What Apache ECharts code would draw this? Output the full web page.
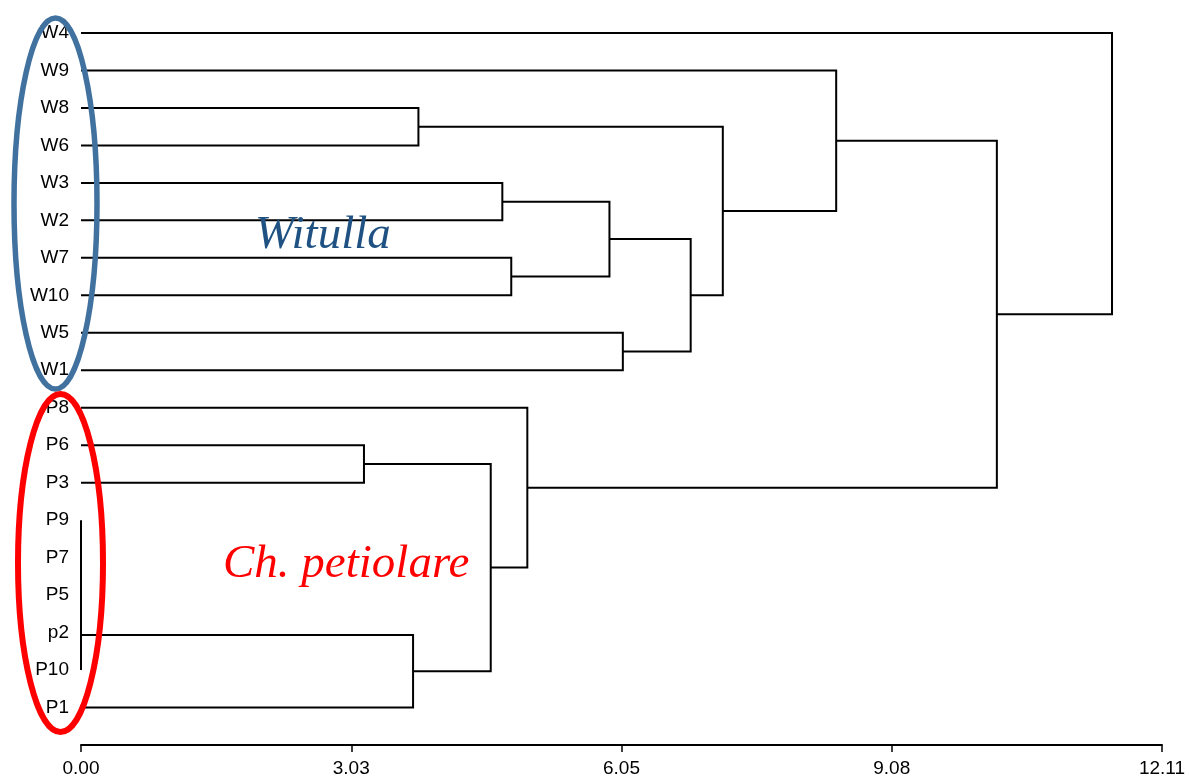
<!DOCTYPE html>
<html>
<head>
<meta charset="utf-8">
<script src="https://cdn.jsdelivr.net/npm/echarts@6/dist/echarts.min.js"></script>
<style>
  html, body { margin: 0; padding: 0; background: #fff; }
  #chart { width: 1189px; height: 779px; }
</style>
</head>
<body>
<div id="chart"></div>
<script>
// Leaf order (top to bottom)
const leaves = ['W4','W9','W8','W6','W3','W2','W7','W10','W5','W1',
                'P8','P6','P3','P9','P7','P5','p2','P10','P1'];

// Merges: [left child, right child, joining distance]; cluster k is referred to as 'c' + k
const merges = [
  ['W8', 'W6', 3.78],   // c0
  ['W3', 'W2', 4.72],   // c1
  ['W7', 'W10', 4.82],  // c2
  ['c1', 'c2', 5.92],   // c3
  ['W5', 'W1', 6.07],   // c4
  ['c3', 'c4', 6.83],   // c5
  ['c0', 'c5', 7.19],   // c6
  ['W9', 'c6', 8.46],   // c7
  ['P6', 'P3', 3.17],   // c8
  ['P9', 'P7', 0],      // c9
  ['c9', 'P5', 0],      // c10
  ['c10', 'p2', 0],     // c11
  ['c11', 'P10', 0],    // c12
  ['c12', 'P1', 3.72],  // c13
  ['c8', 'c13', 4.59],  // c14
  ['P8', 'c14', 5.00],  // c15
  ['c7', 'c15', 10.26], // c16
  ['W4', 'c16', 11.55]  // c17
];

const xTickLabels = ['0.00', '3.03', '6.05', '9.08', '12.11'];
const xMax = 12.11;

// Build the dendrogram link paths
const pos = {};
leaves.forEach((n, i) => { pos[n] = { x: 0, y: i }; });
const links = [];
merges.forEach((m, k) => {
  const a = pos[m[0]], b = pos[m[1]], h = m[2];
  links.push({ coords: [[a.x, a.y], [h, a.y], [h, b.y], [b.x, b.y]] });
  pos['c' + k] = { x: h, y: (a.y + b.y) / 2 };
});

const xInterval = xMax / (xTickLabels.length - 1);

const chart = echarts.init(document.getElementById('chart'), null, { renderer: 'canvas' });
chart.setOption({
  animation: false,
  backgroundColor: '#ffffff',
  grid: { left: 81, right: 27, top: 33, bottom: 34, containLabel: false },
  xAxis: {
    type: 'value',
    position: 'bottom',
    min: 0,
    max: xMax,
    interval: xInterval,
    axisLine: { show: true, onZero: false, lineStyle: { color: '#000', width: 2 } },
    axisTick: { show: true, length: 7, lineStyle: { color: '#000', width: 1.5 } },
    splitLine: { show: false },
    axisLabel: {
      margin: 14,
      color: '#000',
      fontFamily: 'Liberation Sans, Arial, sans-serif',
      fontSize: 19,
      formatter: v => xTickLabels[Math.round(v / xInterval)] ?? ''
    }
  },
  yAxis: {
    type: 'value',
    inverse: true,
    min: 0,
    max: leaves.length,
    interval: 1,
    axisLine: { show: false, onZero: false },
    axisTick: { show: false },
    splitLine: { show: false },
    axisLabel: {
      margin: 12,
      color: '#000',
      fontFamily: 'Liberation Sans, Arial, sans-serif',
      fontSize: 19,
      formatter: v => leaves[v] ?? ''
    }
  },
  series: [{
    type: 'lines',
    coordinateSystem: 'cartesian2d',
    polyline: true,
    silent: true,
    lineStyle: { color: '#000', width: 2, opacity: 1 },
    data: links
  }],
  graphic: [
    {
      type: 'ellipse', z: 100,
      shape: { cx: 55.5, cy: 203.5, rx: 41.5, ry: 185.5 },
      style: { fill: 'none', stroke: '#41729F', lineWidth: 5.5 }
    },
    {
      type: 'ellipse', z: 100,
      shape: { cx: 60.5, cy: 563, rx: 42.5, ry: 169 },
      style: { fill: 'none', stroke: '#FF0000', lineWidth: 6 }
    },
    {
      type: 'text', z: 100, left: 255, top: 212,
      style: {
        text: 'Witulla', fill: '#1F5282',
        font: 'italic 47px "Liberation Serif", "Times New Roman", serif'
      }
    },
    {
      type: 'text', z: 100, left: 223, top: 541,
      style: {
        text: 'Ch. petiolare', fill: '#FF0000',
        font: 'italic 47px "Liberation Serif", "Times New Roman", serif'
      }
    }
  ]
});
</script>
</body>
</html>
